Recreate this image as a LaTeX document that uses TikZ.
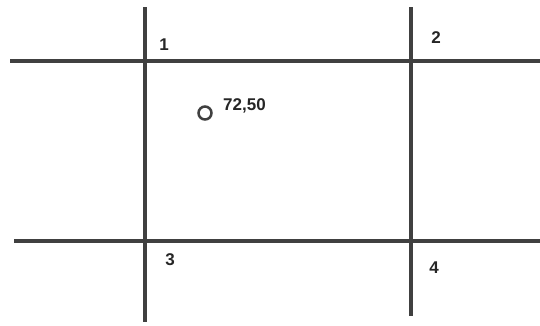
\documentclass[tikz,border=0pt]{standalone}
\usepackage{fontspec}
\setmainfont{Liberation Sans}
\begin{document}
\begin{tikzpicture}[x=1pt,y=-1pt,
  gridline/.style={line width=3.2pt, draw=black!75},
  corner/.style={font=\fontsize{17}{17}\selectfont\bfseries, inner sep=0pt, text=black!85},
  coordlabel/.style={font=\fontsize{17}{17}\selectfont\bfseries, inner sep=0pt, text=black!85, anchor=west},
  pointmark/.style={circle, draw=black!75, line width=2.5pt, minimum size=13pt, inner sep=0pt}]
\useasboundingbox (0,0) rectangle (540,325);
% line end points
\coordinate (h1w) at (10,61);
\coordinate (h1e) at (540,61);
\coordinate (h2w) at (14,241);
\coordinate (h2e) at (540,241);
\coordinate (v1n) at (145,7);
\coordinate (v1s) at (145,322);
\coordinate (v2n) at (411,7);
\coordinate (v2s) at (411,316);
\draw[gridline] (h1w) -- (h1e);
\draw[gridline] (h2w) -- (h2e);
\draw[gridline] (v1n) -- (v1s);
\draw[gridline] (v2n) -- (v2s);
% corner labels
\node[corner] (l1) at (164,45) {1};
\node[corner] (l2) at (436,38) {2};
\node[corner] (l3) at (170,260) {3};
\node[corner] (l4) at (434,268) {4};
% point
\node[pointmark] (p) at (205,113) {};
\node[coordlabel] (pl) at (223,106) {72,50};
\end{tikzpicture}
\end{document}
